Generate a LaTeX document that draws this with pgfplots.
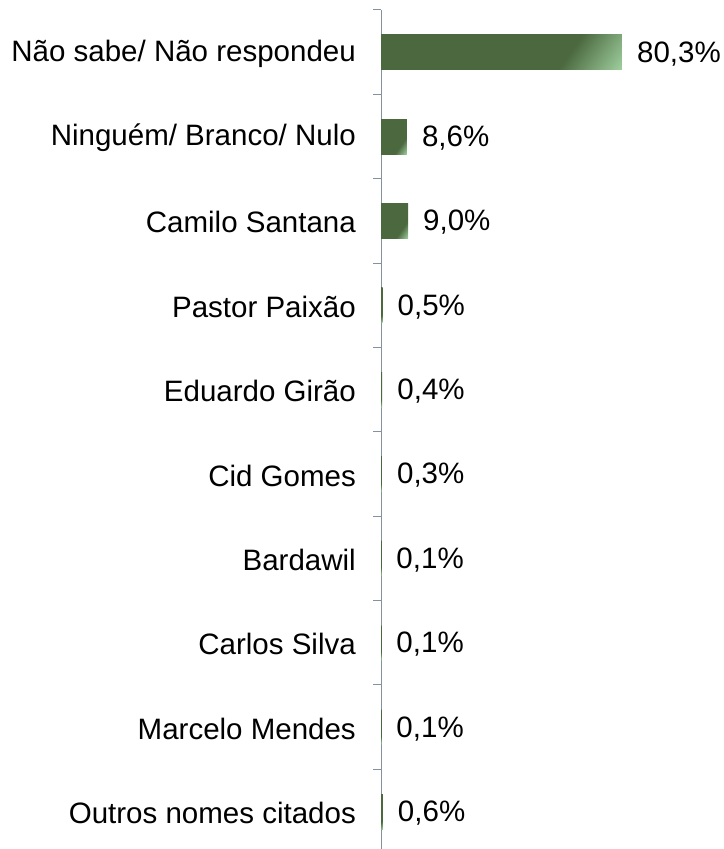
\documentclass[border=0pt]{standalone}
\usepackage{fontspec}
\setmainfont{Liberation Sans}
\usepackage{pgfplots}
\pgfplotsset{compat=1.18}
\definecolor{barDark}{RGB}{75,104,63}
\definecolor{barLight}{RGB}{165,215,165}
\definecolor{axGray}{RGB}{134,145,160}
\pgfdeclarehorizontalshading{barshade}{100bp}{color(0bp)=(barDark); color(68bp)=(barDark); color(86bp)=(barLight); color(100bp)=(barLight)}
\tikzset{gbar/.style={draw=none, shade, shading=barshade, shading angle=-35}}
\begin{document}
\begin{tikzpicture}
\useasboundingbox (0,0) rectangle (724bp,849bp);
\begin{axis}[
  at={(381bp,-4.7bp)}, anchor=south west,
  scale only axis, width=300bp, height=843.7bp,
  xmin=0, xmax=100, ymin=-0.5, ymax=9.5,
  clip=false,
  axis y line*=left, axis x line=none, xtick=\empty,
  axis line style={-, draw=axGray, line width=1bp},
  xbar, bar width=35bp, bar shift=0pt,
  ytick={0,...,9},
  yticklabels={Outros nomes citados, Marcelo Mendes, Carlos Silva, Bardawil, Cid Gomes, Eduardo Girão, Pastor Paixão, Camilo Santana, Ninguém/ Branco/ Nulo, Não sabe/ Não respondeu},
  major tick length=0pt,
  minor ytick={-0.5,0.5,...,9.5},
  minor tick length=8bp,
  tick align=outside,
  every tick/.style={draw=axGray, line width=1bp},
  yticklabel style={anchor=east, inner sep=0pt, xshift=-25bp, yshift=-1.5bp, font=\fontsize{29.5bp}{35bp}\selectfont},
  point meta=x,
  nodes near coords={\pgfmathprintnumber[fixed,fixed zerofill,precision=1,use comma,assume math mode=true]{\pgfplotspointmeta}\%},
  nodes near coords style={anchor=west, inner sep=0pt, xshift=15bp, yshift=-1.5bp, font=\fontsize{29.5bp}{35bp}\selectfont, text=black},
]
\addplot[gbar] coordinates {(0.6,0)};
\addplot[gbar] coordinates {(0.1,1)};
\addplot[gbar] coordinates {(0.1,2)};
\addplot[gbar] coordinates {(0.1,3)};
\addplot[gbar] coordinates {(0.3,4)};
\addplot[gbar] coordinates {(0.4,5)};
\addplot[gbar] coordinates {(0.5,6)};
\addplot[gbar] coordinates {(9.0,7)};
\addplot[gbar] coordinates {(8.6,8)};
\addplot[gbar] coordinates {(80.3,9)};
\end{axis}
\end{tikzpicture}
\end{document}
